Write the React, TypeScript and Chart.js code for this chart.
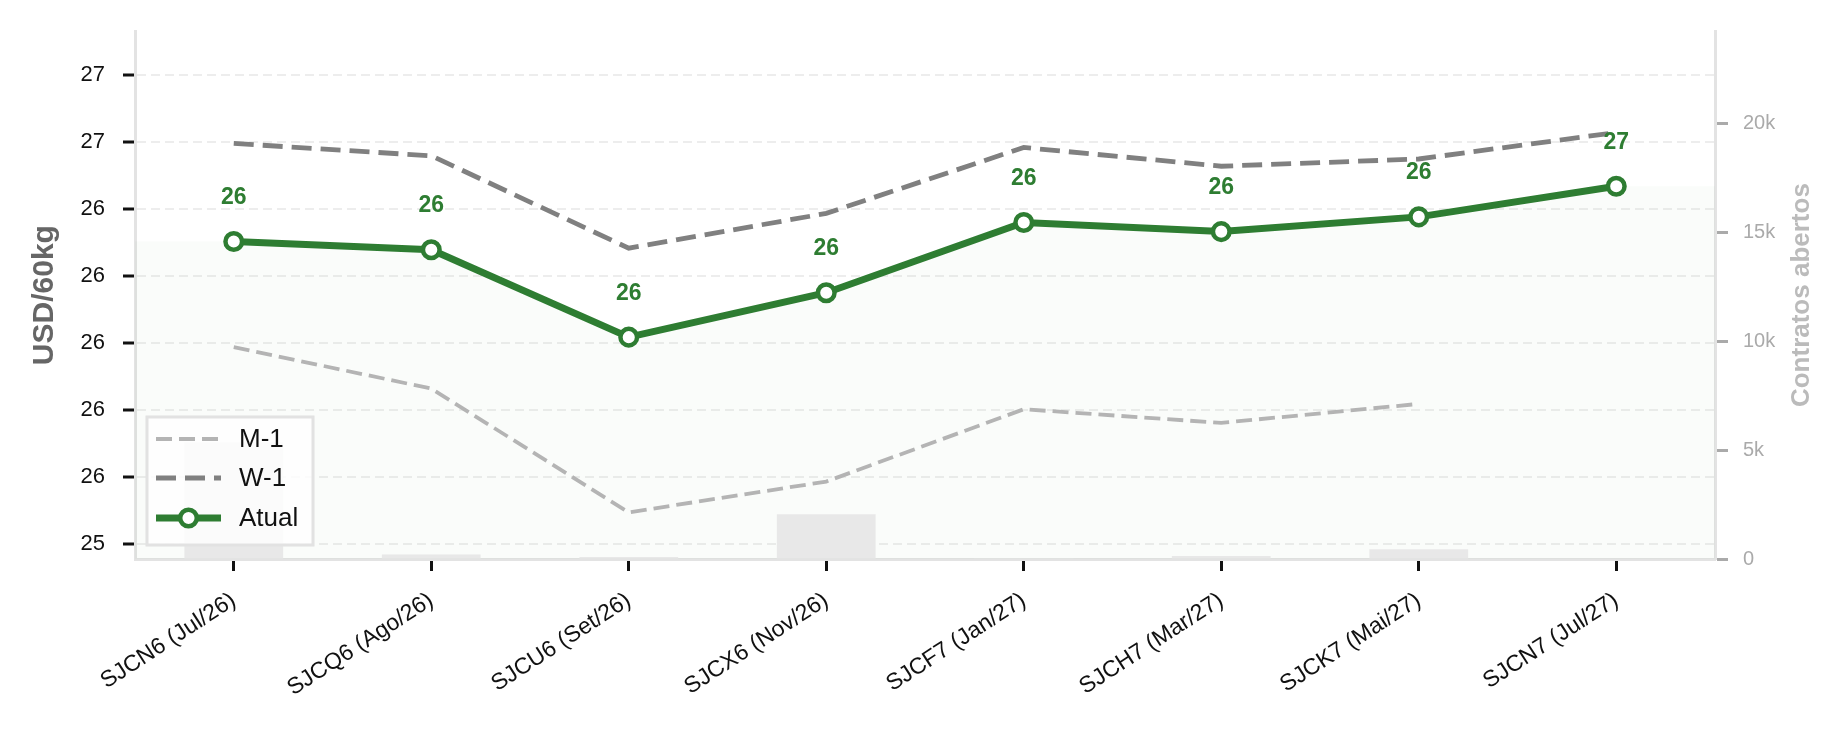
import React, { useEffect, useRef } from 'react';
import { Chart, registerables } from 'chart.js';

Chart.register(...registerables);

// ---- data ----
const contracts = [
  'SJCN6 (Jul/26)',
  'SJCQ6 (Ago/26)',
  'SJCU6 (Set/26)',
  'SJCX6 (Nov/26)',
  'SJCF7 (Jan/27)',
  'SJCH7 (Mar/27)',
  'SJCK7 (Mai/27)',
  'SJCN7 (Jul/27)',
];
const atual = [26.38, 26.349, 26.023, 26.189, 26.451, 26.417, 26.472, 26.586];
const w1 = [26.746, 26.7, 26.355, 26.485, 26.731, 26.661, 26.688, 26.787];
const m1: (number | null)[] = [25.986, 25.831, 25.369, 25.484, 25.754, 25.703, 25.774, null];
const openInterest = [5350, 210, 90, 2050, 30, 140, 450, 0];

const yTickValues = [25.25, 25.5, 25.75, 26.0, 26.25, 26.5, 26.75, 27.0];
const yTickLabels = ['25', '26', '26', '26', '26', '26', '27', '27'];
const ocTickValues = [0, 5000, 10000, 15000, 20000];
const ocTickLabels = ['0', '5k', '10k', '15k', '20k'];

const legendItems = ['M-1', 'W-1', 'Atual'];

const GREEN = '#2e7d32';
const W1_COLOR = '#808080';
const M1_COLOR = '#b4b4b4';
const FONT = "'Liberation Sans', Arial, Helvetica, sans-serif";

export default function App() {
  const ref = useRef<HTMLCanvasElement>(null);

  useEffect(() => {
    document.body.style.margin = '0';
    const canvas = ref.current!;
    Chart.defaults.font.family = FONT;

    const fillData = [
      { x: -0.5, y: atual[0] },
      ...atual.map((v, i) => ({ x: i, y: v })),
      { x: atual.length - 0.5, y: atual[atual.length - 1] },
    ];

    const overlay = {
      id: 'overlay',
      afterDatasetsDraw(chart: any) {
        const ctx = chart.ctx as CanvasRenderingContext2D;
        const area = chart.chartArea;
        // data labels
        const idx = chart.data.datasets.findIndex((d: any) => d.label === 'Atual');
        const meta = chart.getDatasetMeta(idx);
        ctx.save();
        ctx.font = `bold 23px ${FONT}`;
        ctx.fillStyle = GREEN;
        ctx.textAlign = 'center';
        ctx.textBaseline = 'middle';
        meta.data.forEach((pt: any, i: number) => {
          ctx.fillText(String(Math.round(atual[i])), pt.x, pt.y - 44);
        });
        ctx.restore();

        // legend
        const left = area.left + 12;
        const top = area.bottom - 142;
        const w = 166;
        const h = 128;
        ctx.save();
        ctx.fillStyle = 'rgba(255,255,255,0.8)';
        ctx.fillRect(left, top, w, h);
        ctx.strokeStyle = '#e2e2e2';
        ctx.lineWidth = 3;
        ctx.strokeRect(left, top, w, h);
        const rows = [top + 22, top + 61, top + 101];
        const hx0 = left + 9;
        const hx1 = left + 74;
        legendItems.forEach((name, i) => {
          const y = rows[i];
          ctx.save();
          if (name === 'M-1') {
            ctx.strokeStyle = M1_COLOR;
            ctx.lineWidth = 3.8;
            ctx.setLineDash([16, 7]);
          } else if (name === 'W-1') {
            ctx.strokeStyle = W1_COLOR;
            ctx.lineWidth = 4.8;
            ctx.setLineDash([20, 9]);
          } else {
            ctx.strokeStyle = GREEN;
            ctx.lineWidth = 7;
            ctx.setLineDash([]);
          }
          ctx.beginPath();
          ctx.moveTo(hx0, y);
          ctx.lineTo(hx1, y);
          ctx.stroke();
          if (name === 'Atual') {
            ctx.beginPath();
            ctx.arc((hx0 + hx1) / 2, y, 8.3, 0, Math.PI * 2);
            ctx.fillStyle = '#ffffff';
            ctx.fill();
            ctx.lineWidth = 4.5;
            ctx.stroke();
          }
          ctx.restore();
          ctx.fillStyle = '#111';
          ctx.font = `26px ${FONT}`;
          ctx.textAlign = 'left';
          ctx.textBaseline = 'middle';
          ctx.fillText(name, left + 92, y + 1);
        });
        ctx.restore();
      },
      afterDraw(chart: any) {
        const ctx = chart.ctx as CanvasRenderingContext2D;
        const area = chart.chartArea;
        ctx.save();
        ctx.translate(45, (area.top + area.bottom) / 2);
        ctx.rotate(-Math.PI / 2);
        ctx.font = `bold 30px ${FONT}`;
        ctx.fillStyle = '#666666';
        ctx.textAlign = 'center';
        ctx.textBaseline = 'middle';
        ctx.fillText('USD/60kg', 0, 0);
        ctx.restore();

        ctx.save();
        ctx.translate(area.right + 87, (area.top + area.bottom) / 2);
        ctx.rotate(-Math.PI / 2);
        ctx.font = `bold 26px ${FONT}`;
        ctx.fillStyle = '#bbbbbb';
        ctx.textAlign = 'center';
        ctx.textBaseline = 'middle';
        ctx.fillText('Contratos abertos', 0, 0);
        ctx.restore();
      },
    };

    const chart = new Chart(canvas, {
      type: 'line',
      data: {
        labels: contracts,
        datasets: [
          {
            type: 'line',
            label: 'fill',
            data: fillData as any,
            xAxisID: 'x2',
            yAxisID: 'y',
            fill: 'start',
            backgroundColor: 'rgba(46,125,50,0.022)',
            borderWidth: 0,
            pointRadius: 0,
            order: 5,
          },
          {
            type: 'bar',
            label: 'OI',
            data: openInterest,
            xAxisID: 'x',
            yAxisID: 'y1',
            backgroundColor: '#e8e8e8',
            barPercentage: 0.5,
            categoryPercentage: 1,
            grouped: false,
            order: 4,
          } as any,
          {
            type: 'line',
            label: 'M-1',
            data: m1,
            xAxisID: 'x',
            yAxisID: 'y',
            borderColor: M1_COLOR,
            borderWidth: 3.8,
            borderDash: [16, 7],
            pointRadius: 0,
            fill: false,
            tension: 0,
            spanGaps: false,
            order: 3,
          },
          {
            type: 'line',
            label: 'W-1',
            data: w1,
            xAxisID: 'x',
            yAxisID: 'y',
            borderColor: W1_COLOR,
            borderWidth: 4.8,
            borderDash: [20, 9],
            pointRadius: 0,
            fill: false,
            tension: 0,
            order: 2,
          },
          {
            type: 'line',
            label: 'Atual',
            data: atual,
            xAxisID: 'x',
            yAxisID: 'y',
            borderColor: GREEN,
            borderWidth: 7,
            pointRadius: 8.3,
            pointBorderWidth: 4.5,
            pointBackgroundColor: '#ffffff',
            pointBorderColor: GREEN,
            fill: false,
            tension: 0,
            order: 1,
          },
        ],
      },
      options: {
        responsive: false,
        animation: false,
        devicePixelRatio: 1,
        events: [],
        layout: { padding: { top: 26, left: 0, right: 0, bottom: 0 } },
        plugins: {
          legend: { display: false },
          tooltip: { enabled: false },
          title: { display: false },
        },
        scales: {
          x: {
            type: 'category',
            offset: true,
            grid: {
              offset: false,
              drawOnChartArea: false,
              drawTicks: true,
              tickLength: 12,
              tickColor: '#111',
              tickWidth: 3,
            },
            border: { display: true, color: '#e3e3e3', width: 3 },
            ticks: {
              color: '#111',
              font: { size: 23 },
              minRotation: 33,
              maxRotation: 33,
              padding: 16,
              autoSkip: false,
            },
            afterFit: (s: any) => {
              s.height = 175;
            },
          },
          x2: {
            type: 'linear',
            display: false,
            min: -0.5,
            max: contracts.length - 0.5,
          },
          y: {
            type: 'linear',
            position: 'left',
            min: 25.195,
            max: 27.165,
            afterBuildTicks: (s: any) => {
              s.ticks = yTickValues.map((v) => ({ value: v }));
            },
            ticks: {
              callback: (_v: any, i: number) => yTickLabels[i],
              color: '#111',
              font: { size: 22 },
              padding: 18,
            },
            grid: {
              color: 'rgba(0,0,0,0.07)',
              lineWidth: 2,
              tickLength: 12,
              tickColor: '#111',
              tickWidth: 3,
              tickBorderDash: [],
            },
            border: { display: true, color: '#e3e3e3', width: 3, dash: [9, 5] },
            afterFit: (s: any) => {
              s.width = 135;
            },
          },
          y1: {
            type: 'linear',
            position: 'right',
            min: 0,
            max: 24230,
            afterBuildTicks: (s: any) => {
              s.ticks = ocTickValues.map((v) => ({ value: v }));
            },
            ticks: {
              callback: (_v: any, i: number) => ocTickLabels[i],
              color: '#aaaaaa',
              font: { size: 20 },
              padding: 15,
            },
            grid: {
              drawOnChartArea: false,
              tickLength: 13,
              tickColor: '#aaaaaa',
              tickWidth: 3,
            },
            border: { display: true, color: '#e3e3e3', width: 3 },
            afterFit: (s: any) => {
              s.width = 131;
            },
          },
        } as any,
      },
      plugins: [overlay],
    });

    return () => chart.destroy();
  }, []);

  return <canvas ref={ref} width={1846} height={734} style={{ display: 'block' }} />;
}
